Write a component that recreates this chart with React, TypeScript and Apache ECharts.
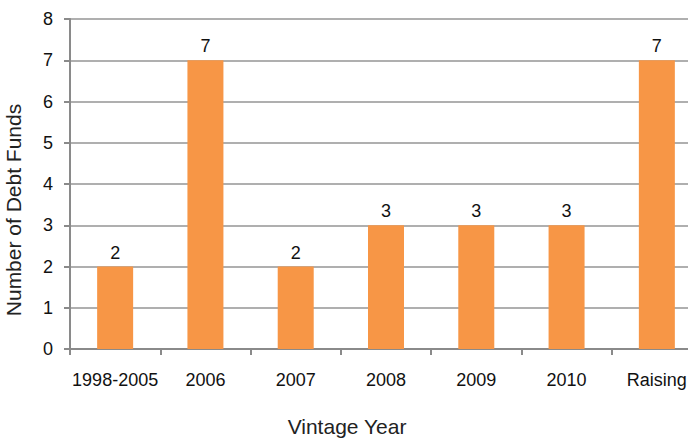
import React, { useEffect, useRef } from "react";
import * as echarts from "echarts";

const categories = ["1998-2005", "2006", "2007", "2008", "2009", "2010", "Raising"];
const fundCounts = [2, 7, 2, 3, 3, 3, 7];
const yTicks = [0, 8, 1];

export default function App() {
  const ref = useRef<HTMLDivElement>(null);
  useEffect(() => {
    if (!ref.current) return;
    const chart = echarts.init(ref.current, null, { renderer: "svg" });
    chart.setOption({
      animation: false,
      backgroundColor: "#ffffff",
      textStyle: { fontFamily: "Liberation Sans, Arial, sans-serif" },
      grid: { left: 70, right: 2, top: 19, bottom: 90, containLabel: false, outerBoundsMode: "none" },
      xAxis: {
        type: "category",
        data: categories,
        name: "Vintage Year",
        nameLocation: "middle",
        nameGap: 67,
        nameTextStyle: { fontSize: 21, color: "#222", padding: [0, 78, 0, 0] },
        axisLine: { show: true, lineStyle: { color: "#8a8a8a", width: 2 } },
        axisTick: { show: true, alignWithLabel: false, length: 6, lineStyle: { color: "#8a8a8a", width: 2 } },
        axisLabel: { fontSize: 18, color: "#111", margin: 22, interval: 0 },
        splitLine: { show: false },
      },
      yAxis: {
        type: "value",
        min: yTicks[0],
        max: yTicks[1],
        interval: yTicks[2],
        name: "Number of Debt Funds",
        nameLocation: "middle",
        nameGap: 46,
        nameTextStyle: { fontSize: 21, color: "#222", padding: [0, 52, 0, 0] },
        axisLine: { show: true, lineStyle: { color: "#8a8a8a", width: 2 } },
        axisTick: { show: true, length: 6, lineStyle: { color: "#8a8a8a", width: 2 } },
        axisLabel: { fontSize: 18, color: "#111", margin: 17 },
        splitLine: { show: true, lineStyle: { color: "#959595", width: 1.5 } },
      },
      graphic: [
        {
          type: "rect",
          right: 0,
          top: 0,
          z: 100,
          shape: { width: 16, height: 439 },
          style: { fill: "#ffffff" },
        },
      ],
      series: [
        {
          type: "bar",
          data: fundCounts,
          barWidth: 36,
          itemStyle: { color: "#F79646" },
          label: { show: true, position: "top", fontSize: 18, color: "#111", distance: 5 },
        },
      ],
    });
    return () => chart.dispose();
  }, []);
  return (
    <div style={{ position: "absolute", left: 0, top: 0, width: 690, height: 439, overflow: "hidden" }}>
      <div ref={ref} style={{ width: 704, height: 439 }} />
    </div>
  );
}
